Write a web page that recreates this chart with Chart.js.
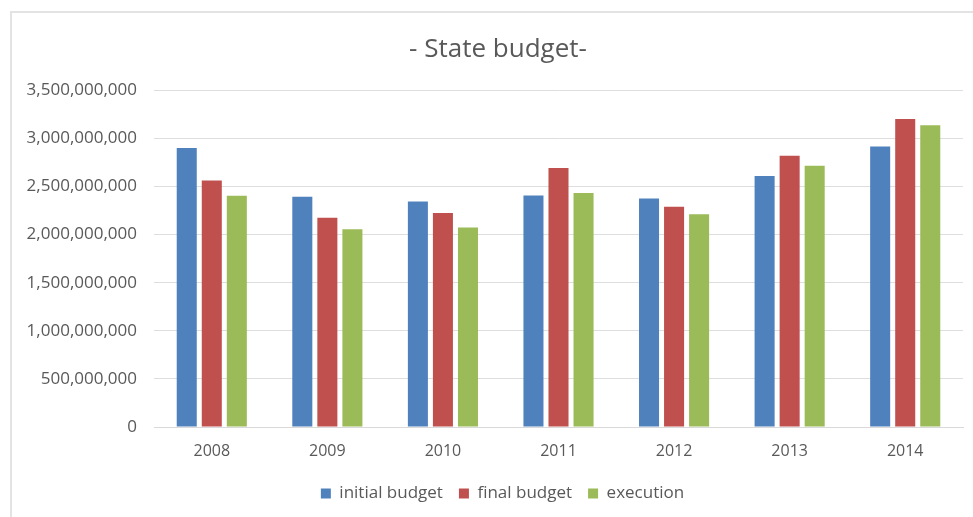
<!DOCTYPE html>
<html lang="en">
<head>
  <meta charset="UTF-8">
  <title>State budget</title>
  <style>
    html, body { margin: 0; padding: 0; background: #fff; }
    #wrap { position: relative; width: 973px; height: 517px; }
  </style>
</head>
<body>
  <div id="wrap">
    <canvas id="budgetChart" width="973" height="517"></canvas>
  </div>

  <script src="https://cdn.jsdelivr.net/npm/chart.js"></script>
  <script>
    const years = ['2008', '2009', '2010', '2011', '2012', '2013', '2014'];
    const initialBudget = [2900000000, 2393000000, 2344000000, 2406000000, 2375000000, 2608000000, 2914000000];
    const finalBudget = [2562000000, 2174000000, 2223000000, 2692000000, 2289000000, 2820000000, 3202000000];
    const execution = [2403000000, 2056000000, 2073000000, 2431000000, 2212000000, 2716000000, 3135000000];

    const textColor = '#595959';
    const fontFamily = "'Open Sans', sans-serif";

    // light frame along the top and left edge of the chart box;
    // title and legend are centred on the framed box rather than the canvas
    const frame = {
      id: 'frame',
      afterLayout(chart) {
        chart.titleBlock.left = 33;
        chart.legend.left = 42;
      },
      beforeDraw(chart) {
        const c = chart.ctx;
        c.save();
        c.strokeStyle = '#e3e3e3';
        c.lineWidth = 2;
        c.beginPath();
        c.moveTo(11, chart.height);
        c.lineTo(11, 12);
        c.lineTo(chart.width, 12);
        c.stroke();
        c.restore();
      }
    };

    var ctx = document.getElementById('budgetChart').getContext('2d');
    var chart = new Chart(ctx, {
      type: 'bar',
      data: {
        labels: years,
        datasets: [
          { label: 'initial budget', data: initialBudget, backgroundColor: '#4f81bd' },
          { label: 'final budget', data: finalBudget, backgroundColor: '#c0504d' },
          { label: 'execution', data: execution, backgroundColor: '#9bbb59' }
        ]
      },
      options: {
        responsive: false,
        animation: false,
        devicePixelRatio: 1,
        categoryPercentage: 0.65,
        barPercentage: 0.8,
        layout: { padding: { left: 0, right: 10, top: 0, bottom: 5 } },
        scales: {
          x: {
            afterFit(scale) { scale.height = 42; },
            grid: { display: false, drawTicks: false },
            border: { display: true, color: '#d9d9d9', width: 1 },
            ticks: { color: textColor, font: { family: fontFamily, size: 16 }, padding: 15 }
          },
          y: {
            min: 0,
            max: 3500000000,
            afterFit(scale) { scale.width = 154; },
            grid: { color: '#dedede', drawTicks: false },
            border: { display: false },
            ticks: {
              stepSize: 500000000,
              color: textColor,
              padding: 17,
              font: { family: fontFamily, size: 17 },
              callback: value => value.toLocaleString('en-US')
            }
          }
        },
        plugins: {
          title: {
            display: true,
            text: '- State budget-',
            color: textColor,
            font: { family: fontFamily, size: 26, weight: 'normal' },
            padding: { top: 34, bottom: 25 }
          },
          legend: {
            position: 'bottom',
            labels: {
              color: textColor,
              font: { family: fontFamily, size: 17 },
              boxWidth: 10,
              boxHeight: 10,
              padding: 16
            }
          },
          tooltip: { enabled: false }
        }
      },
      plugins: [frame]
    });
  </script>
</body>
</html>
